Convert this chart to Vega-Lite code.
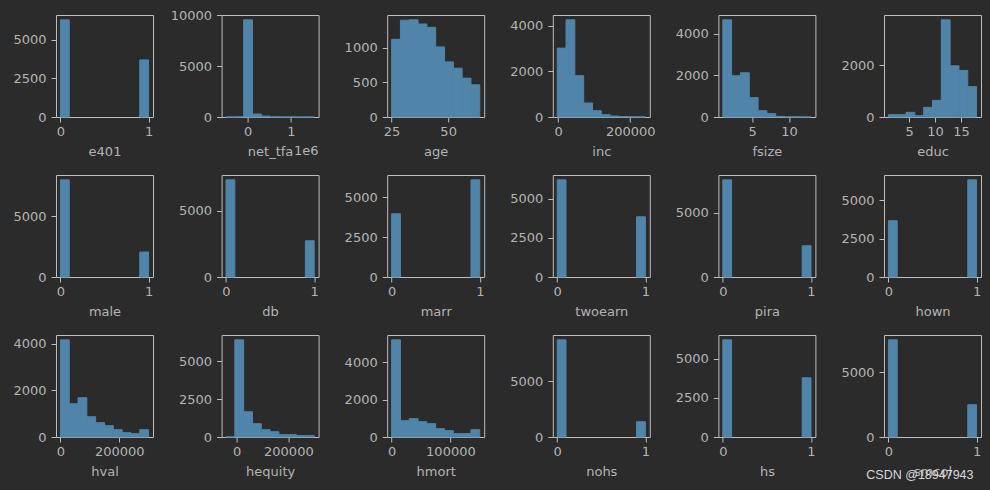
{
  "$schema": "https://vega.github.io/schema/vega-lite/v6.json",
  "background": "#2b2b2b",
  "padding": {"left": 12, "top": 8, "right": 9, "bottom": 12},
  "title": {"text": "CSDN @18947943", "orient": "bottom", "anchor": "end", "offset": -10, "font": "Liberation Sans", "fontSize": 12.5, "fontWeight": "normal", "color": "#d8d8d8", "dx": -8},
  "data": {"values": [
    {"var": "e401", "lo": 0, "hi": 0.1, "count": 6280},
    {"var": "e401", "lo": 0.9, "hi": 1, "count": 3690},
    {"var": "net_tfa", "lo": -502302, "hi": -298392, "count": 2},
    {"var": "net_tfa", "lo": -298392, "hi": -94482, "count": 12},
    {"var": "net_tfa", "lo": -94482, "hi": 109428, "count": 9560},
    {"var": "net_tfa", "lo": 109428, "hi": 313338, "count": 290},
    {"var": "net_tfa", "lo": 313338, "hi": 517248, "count": 90},
    {"var": "net_tfa", "lo": 517248, "hi": 721158, "count": 12},
    {"var": "net_tfa", "lo": 721158, "hi": 925068, "count": 4},
    {"var": "net_tfa", "lo": 925068, "hi": 1128978, "count": 2},
    {"var": "net_tfa", "lo": 1128978, "hi": 1332888, "count": 1},
    {"var": "net_tfa", "lo": 1332888, "hi": 1536798, "count": 2},
    {"var": "age", "lo": 25, "hi": 28.9, "count": 1122},
    {"var": "age", "lo": 28.9, "hi": 32.8, "count": 1398},
    {"var": "age", "lo": 32.8, "hi": 36.7, "count": 1403},
    {"var": "age", "lo": 36.7, "hi": 40.6, "count": 1343},
    {"var": "age", "lo": 40.6, "hi": 44.5, "count": 1295},
    {"var": "age", "lo": 44.5, "hi": 48.4, "count": 1012},
    {"var": "age", "lo": 48.4, "hi": 52.3, "count": 796},
    {"var": "age", "lo": 52.3, "hi": 56.2, "count": 705},
    {"var": "age", "lo": 56.2, "hi": 60.1, "count": 561},
    {"var": "age", "lo": 60.1, "hi": 64, "count": 465},
    {"var": "inc", "lo": -2652, "hi": 21826, "count": 3020},
    {"var": "inc", "lo": 21826, "hi": 46303, "count": 4260},
    {"var": "inc", "lo": 46303, "hi": 70781, "count": 1809},
    {"var": "inc", "lo": 70781, "hi": 95258, "count": 613},
    {"var": "inc", "lo": 95258, "hi": 119736, "count": 277},
    {"var": "inc", "lo": 119736, "hi": 144214, "count": 102},
    {"var": "inc", "lo": 144214, "hi": 168691, "count": 44},
    {"var": "inc", "lo": 168691, "hi": 193169, "count": 20},
    {"var": "inc", "lo": 193169, "hi": 217646, "count": 10},
    {"var": "inc", "lo": 217646, "hi": 242124, "count": 8},
    {"var": "fsize", "lo": 1, "hi": 2.2, "count": 4657},
    {"var": "fsize", "lo": 2.2, "hi": 3.4, "count": 1978},
    {"var": "fsize", "lo": 3.4, "hi": 4.6, "count": 2121},
    {"var": "fsize", "lo": 4.6, "hi": 5.8, "count": 925},
    {"var": "fsize", "lo": 5.8, "hi": 7, "count": 303},
    {"var": "fsize", "lo": 7, "hi": 8.2, "count": 160},
    {"var": "fsize", "lo": 8.2, "hi": 9.4, "count": 32},
    {"var": "fsize", "lo": 9.4, "hi": 10.6, "count": 10},
    {"var": "fsize", "lo": 10.6, "hi": 11.8, "count": 5},
    {"var": "fsize", "lo": 11.8, "hi": 13, "count": 3},
    {"var": "educ", "lo": 1, "hi": 2.7, "count": 90},
    {"var": "educ", "lo": 2.7, "hi": 4.4, "count": 90},
    {"var": "educ", "lo": 4.4, "hi": 6.1, "count": 180},
    {"var": "educ", "lo": 6.1, "hi": 7.8, "count": 51},
    {"var": "educ", "lo": 7.8, "hi": 9.5, "count": 372},
    {"var": "educ", "lo": 9.5, "hi": 11.2, "count": 641},
    {"var": "educ", "lo": 11.2, "hi": 12.9, "count": 3743},
    {"var": "educ", "lo": 12.9, "hi": 14.6, "count": 1974},
    {"var": "educ", "lo": 14.6, "hi": 16.3, "count": 1795},
    {"var": "educ", "lo": 16.3, "hi": 18, "count": 1167},
    {"var": "male", "lo": 0, "hi": 0.1, "count": 8028},
    {"var": "male", "lo": 0.9, "hi": 1, "count": 2063},
    {"var": "db", "lo": 0, "hi": 0.1, "count": 7305},
    {"var": "db", "lo": 0.9, "hi": 1, "count": 2725},
    {"var": "marr", "lo": 0, "hi": 0.1, "count": 3958},
    {"var": "marr", "lo": 0.9, "hi": 1, "count": 6083},
    {"var": "twoearn", "lo": 0, "hi": 0.1, "count": 6213},
    {"var": "twoearn", "lo": 0.9, "hi": 1, "count": 3851},
    {"var": "pira", "lo": 0, "hi": 0.1, "count": 7565},
    {"var": "pira", "lo": 0.9, "hi": 1, "count": 2435},
    {"var": "hown", "lo": 0, "hi": 0.1, "count": 3674},
    {"var": "hown", "lo": 0.9, "hi": 1, "count": 6348},
    {"var": "hval", "lo": 0, "hi": 30000, "count": 4171},
    {"var": "hval", "lo": 30000, "hi": 60000, "count": 1429},
    {"var": "hval", "lo": 60000, "hi": 90000, "count": 1686},
    {"var": "hval", "lo": 90000, "hi": 120000, "count": 871},
    {"var": "hval", "lo": 120000, "hi": 150000, "count": 614},
    {"var": "hval", "lo": 150000, "hi": 180000, "count": 486},
    {"var": "hval", "lo": 180000, "hi": 210000, "count": 314},
    {"var": "hval", "lo": 210000, "hi": 240000, "count": 186},
    {"var": "hval", "lo": 240000, "hi": 270000, "count": 143},
    {"var": "hval", "lo": 270000, "hi": 300000, "count": 314},
    {"var": "hequity", "lo": -41500, "hi": -7350, "count": 10},
    {"var": "hequity", "lo": -7350, "hi": 26800, "count": 6432},
    {"var": "hequity", "lo": 26800, "hi": 60950, "count": 1674},
    {"var": "hequity", "lo": 60950, "hi": 95100, "count": 881},
    {"var": "hequity", "lo": 95100, "hi": 129250, "count": 485},
    {"var": "hequity", "lo": 129250, "hi": 163400, "count": 352},
    {"var": "hequity", "lo": 163400, "hi": 197550, "count": 154},
    {"var": "hequity", "lo": 197550, "hi": 231700, "count": 154},
    {"var": "hequity", "lo": 231700, "hi": 265850, "count": 88},
    {"var": "hequity", "lo": 265850, "hi": 300000, "count": 88},
    {"var": "hmort", "lo": 0, "hi": 15000, "count": 5191},
    {"var": "hmort", "lo": 15000, "hi": 30000, "count": 871},
    {"var": "hmort", "lo": 30000, "hi": 45000, "count": 978},
    {"var": "hmort", "lo": 45000, "hi": 60000, "count": 818},
    {"var": "hmort", "lo": 60000, "hi": 75000, "count": 711},
    {"var": "hmort", "lo": 75000, "hi": 90000, "count": 444},
    {"var": "hmort", "lo": 90000, "hi": 105000, "count": 338},
    {"var": "hmort", "lo": 105000, "hi": 120000, "count": 178},
    {"var": "hmort", "lo": 120000, "hi": 135000, "count": 178},
    {"var": "hmort", "lo": 135000, "hi": 150000, "count": 391},
    {"var": "nohs", "lo": 0, "hi": 0.1, "count": 8690},
    {"var": "nohs", "lo": 0.9, "hi": 1, "count": 1369},
    {"var": "hs", "lo": 0, "hi": 0.1, "count": 6213},
    {"var": "hs", "lo": 0.9, "hi": 1, "count": 3787},
    {"var": "smcol", "lo": 0, "hi": 0.1, "count": 7526},
    {"var": "smcol", "lo": 0.9, "hi": 1, "count": 2500}
  ]},
  "columns": 6,
  "bounds": "flush",
  "align": "all",
  "spacing": {"row": 58, "column": 68.6},
  "concat": [
    {"width": 97, "height": 102, "transform": [{"filter": "datum.var === 'e401'"}], "mark": {"type": "bar", "color": "#5085a9", "stroke": "#5085a9", "strokeWidth": 1},
     "encoding": {"x": {"field": "lo", "type": "quantitative", "scale": {"domain": [-0.05, 1.05], "nice": false, "zero": false}, "axis": {"values": [0, 1], "title": "e401"}}, "x2": {"field": "hi"},
       "y": {"field": "count", "type": "quantitative", "scale": {"domain": [0, 6594], "nice": false}, "axis": {"values": [0, 2500, 5000], "title": null}}, "y2": {"datum": 0}}},
    {"width": 97, "height": 102, "layer": [
      {"transform": [{"filter": "datum.var === 'net_tfa'"}], "mark": {"type": "bar", "color": "#5085a9", "stroke": "#5085a9", "strokeWidth": 1},
       "encoding": {"x": {"field": "lo", "type": "quantitative", "scale": {"domain": [-604257, 1638753], "nice": false, "zero": false}, "axis": {"values": [0, 1000000], "labelExpr": "format(datum.value / 1000000, 'd')", "title": "net_tfa"}}, "x2": {"field": "hi"},
         "y": {"field": "count", "type": "quantitative", "scale": {"domain": [0, 10038], "nice": false}, "axis": {"values": [0, 5000, 10000], "title": null}}, "y2": {"datum": 0}}},
      {"data": {"values": [{"t": "1e6"}]}, "mark": {"type": "text", "align": "right", "baseline": "alphabetic", "font": "DejaVu Sans", "fontSize": 13, "color": "#b4b4b4"},
       "encoding": {"x": {"datum": 1638753}, "y": {"datum": -3700}, "text": {"field": "t"}}}
    ]},
    {"width": 97, "height": 102, "transform": [{"filter": "datum.var === 'age'"}], "mark": {"type": "bar", "color": "#5085a9", "stroke": "#5085a9", "strokeWidth": 1},
     "encoding": {"x": {"field": "lo", "type": "quantitative", "scale": {"domain": [23.05, 65.95], "nice": false, "zero": false}, "axis": {"values": [25, 50], "title": "age"}}, "x2": {"field": "hi"},
       "y": {"field": "count", "type": "quantitative", "scale": {"domain": [0, 1473], "nice": false}, "axis": {"values": [0, 500, 1000], "title": null}}, "y2": {"datum": 0}}},
    {"width": 97, "height": 102, "transform": [{"filter": "datum.var === 'inc'"}], "mark": {"type": "bar", "color": "#5085a9", "stroke": "#5085a9", "strokeWidth": 1},
     "encoding": {"x": {"field": "lo", "type": "quantitative", "scale": {"domain": [-14891, 254363], "nice": false, "zero": false}, "axis": {"values": [0, 200000], "title": "inc"}}, "x2": {"field": "hi"},
       "y": {"field": "count", "type": "quantitative", "scale": {"domain": [0, 4473], "nice": false}, "axis": {"values": [0, 2000, 4000], "title": null}}, "y2": {"datum": 0}}},
    {"width": 97, "height": 102, "transform": [{"filter": "datum.var === 'fsize'"}], "mark": {"type": "bar", "color": "#5085a9", "stroke": "#5085a9", "strokeWidth": 1},
     "encoding": {"x": {"field": "lo", "type": "quantitative", "scale": {"domain": [0.4, 13.6], "nice": false, "zero": false}, "axis": {"values": [5, 10], "title": "fsize"}}, "x2": {"field": "hi"},
       "y": {"field": "count", "type": "quantitative", "scale": {"domain": [0, 4890], "nice": false}, "axis": {"values": [0, 2000, 4000], "title": null}}, "y2": {"datum": 0}}},
    {"width": 97, "height": 102, "transform": [{"filter": "datum.var === 'educ'"}], "mark": {"type": "bar", "color": "#5085a9", "stroke": "#5085a9", "strokeWidth": 1},
     "encoding": {"x": {"field": "lo", "type": "quantitative", "scale": {"domain": [0.15, 18.85], "nice": false, "zero": false}, "axis": {"values": [5, 10, 15], "title": "educ"}}, "x2": {"field": "hi"},
       "y": {"field": "count", "type": "quantitative", "scale": {"domain": [0, 3930], "nice": false}, "axis": {"values": [0, 2000], "title": null}}, "y2": {"datum": 0}}},
    {"width": 97, "height": 102, "transform": [{"filter": "datum.var === 'male'"}], "mark": {"type": "bar", "color": "#5085a9", "stroke": "#5085a9", "strokeWidth": 1},
     "encoding": {"x": {"field": "lo", "type": "quantitative", "scale": {"domain": [-0.05, 1.05], "nice": false, "zero": false}, "axis": {"values": [0, 1], "title": "male"}}, "x2": {"field": "hi"},
       "y": {"field": "count", "type": "quantitative", "scale": {"domain": [0, 8429], "nice": false}, "axis": {"values": [0, 5000], "title": null}}, "y2": {"datum": 0}}},
    {"width": 97, "height": 102, "transform": [{"filter": "datum.var === 'db'"}], "mark": {"type": "bar", "color": "#5085a9", "stroke": "#5085a9", "strokeWidth": 1},
     "encoding": {"x": {"field": "lo", "type": "quantitative", "scale": {"domain": [-0.05, 1.05], "nice": false, "zero": false}, "axis": {"values": [0, 1], "title": "db"}}, "x2": {"field": "hi"},
       "y": {"field": "count", "type": "quantitative", "scale": {"domain": [0, 7670], "nice": false}, "axis": {"values": [0, 5000], "title": null}}, "y2": {"datum": 0}}},
    {"width": 97, "height": 102, "transform": [{"filter": "datum.var === 'marr'"}], "mark": {"type": "bar", "color": "#5085a9", "stroke": "#5085a9", "strokeWidth": 1},
     "encoding": {"x": {"field": "lo", "type": "quantitative", "scale": {"domain": [-0.05, 1.05], "nice": false, "zero": false}, "axis": {"values": [0, 1], "title": "marr"}}, "x2": {"field": "hi"},
       "y": {"field": "count", "type": "quantitative", "scale": {"domain": [0, 6387], "nice": false}, "axis": {"values": [0, 2500, 5000], "title": null}}, "y2": {"datum": 0}}},
    {"width": 97, "height": 102, "transform": [{"filter": "datum.var === 'twoearn'"}], "mark": {"type": "bar", "color": "#5085a9", "stroke": "#5085a9", "strokeWidth": 1},
     "encoding": {"x": {"field": "lo", "type": "quantitative", "scale": {"domain": [-0.05, 1.05], "nice": false, "zero": false}, "axis": {"values": [0, 1], "title": "twoearn"}}, "x2": {"field": "hi"},
       "y": {"field": "count", "type": "quantitative", "scale": {"domain": [0, 6524], "nice": false}, "axis": {"values": [0, 2500, 5000], "title": null}}, "y2": {"datum": 0}}},
    {"width": 97, "height": 102, "transform": [{"filter": "datum.var === 'pira'"}], "mark": {"type": "bar", "color": "#5085a9", "stroke": "#5085a9", "strokeWidth": 1},
     "encoding": {"x": {"field": "lo", "type": "quantitative", "scale": {"domain": [-0.05, 1.05], "nice": false, "zero": false}, "axis": {"values": [0, 1], "title": "pira"}}, "x2": {"field": "hi"},
       "y": {"field": "count", "type": "quantitative", "scale": {"domain": [0, 7943], "nice": false}, "axis": {"values": [0, 5000], "title": null}}, "y2": {"datum": 0}}},
    {"width": 97, "height": 102, "transform": [{"filter": "datum.var === 'hown'"}], "mark": {"type": "bar", "color": "#5085a9", "stroke": "#5085a9", "strokeWidth": 1},
     "encoding": {"x": {"field": "lo", "type": "quantitative", "scale": {"domain": [-0.05, 1.05], "nice": false, "zero": false}, "axis": {"values": [0, 1], "title": "hown"}}, "x2": {"field": "hi"},
       "y": {"field": "count", "type": "quantitative", "scale": {"domain": [0, 6665], "nice": false}, "axis": {"values": [0, 2500, 5000], "title": null}}, "y2": {"datum": 0}}},
    {"width": 97, "height": 102, "transform": [{"filter": "datum.var === 'hval'"}], "mark": {"type": "bar", "color": "#5085a9", "stroke": "#5085a9", "strokeWidth": 1},
     "encoding": {"x": {"field": "lo", "type": "quantitative", "scale": {"domain": [-15000, 315000], "nice": false, "zero": false}, "axis": {"values": [0, 200000], "title": "hval"}}, "x2": {"field": "hi"},
       "y": {"field": "count", "type": "quantitative", "scale": {"domain": [0, 4380], "nice": false}, "axis": {"values": [0, 2000, 4000], "title": null}}, "y2": {"datum": 0}}},
    {"width": 97, "height": 102, "transform": [{"filter": "datum.var === 'hequity'"}], "mark": {"type": "bar", "color": "#5085a9", "stroke": "#5085a9", "strokeWidth": 1},
     "encoding": {"x": {"field": "lo", "type": "quantitative", "scale": {"domain": [-58575, 317075], "nice": false, "zero": false}, "axis": {"values": [0, 200000], "title": "hequity"}}, "x2": {"field": "hi"},
       "y": {"field": "count", "type": "quantitative", "scale": {"domain": [0, 6754], "nice": false}, "axis": {"values": [0, 2500, 5000], "title": null}}, "y2": {"datum": 0}}},
    {"width": 97, "height": 102, "transform": [{"filter": "datum.var === 'hmort'"}], "mark": {"type": "bar", "color": "#5085a9", "stroke": "#5085a9", "strokeWidth": 1},
     "encoding": {"x": {"field": "lo", "type": "quantitative", "scale": {"domain": [-7500, 157500], "nice": false, "zero": false}, "axis": {"values": [0, 100000], "title": "hmort"}}, "x2": {"field": "hi"},
       "y": {"field": "count", "type": "quantitative", "scale": {"domain": [0, 5451], "nice": false}, "axis": {"values": [0, 2000, 4000], "title": null}}, "y2": {"datum": 0}}},
    {"width": 97, "height": 102, "transform": [{"filter": "datum.var === 'nohs'"}], "mark": {"type": "bar", "color": "#5085a9", "stroke": "#5085a9", "strokeWidth": 1},
     "encoding": {"x": {"field": "lo", "type": "quantitative", "scale": {"domain": [-0.05, 1.05], "nice": false, "zero": false}, "axis": {"values": [0, 1], "title": "nohs"}}, "x2": {"field": "hi"},
       "y": {"field": "count", "type": "quantitative", "scale": {"domain": [0, 9125], "nice": false}, "axis": {"values": [0, 5000], "title": null}}, "y2": {"datum": 0}}},
    {"width": 97, "height": 102, "transform": [{"filter": "datum.var === 'hs'"}], "mark": {"type": "bar", "color": "#5085a9", "stroke": "#5085a9", "strokeWidth": 1},
     "encoding": {"x": {"field": "lo", "type": "quantitative", "scale": {"domain": [-0.05, 1.05], "nice": false, "zero": false}, "axis": {"values": [0, 1], "title": "hs"}}, "x2": {"field": "hi"},
       "y": {"field": "count", "type": "quantitative", "scale": {"domain": [0, 6524], "nice": false}, "axis": {"values": [0, 2500, 5000], "title": null}}, "y2": {"datum": 0}}},
    {"width": 97, "height": 102, "transform": [{"filter": "datum.var === 'smcol'"}], "mark": {"type": "bar", "color": "#5085a9", "stroke": "#5085a9", "strokeWidth": 1},
     "encoding": {"x": {"field": "lo", "type": "quantitative", "scale": {"domain": [-0.05, 1.05], "nice": false, "zero": false}, "axis": {"values": [0, 1], "title": "smcol"}}, "x2": {"field": "hi"},
       "y": {"field": "count", "type": "quantitative", "scale": {"domain": [0, 7902], "nice": false}, "axis": {"values": [0, 5000], "title": null}}, "y2": {"datum": 0}}}
  ],
  "config": {
    "numberFormat": "d",
    "view": {"stroke": "#bdbdbd", "strokeWidth": 1},
    "axis": {"grid": false, "domain": false, "ticks": true, "tickColor": "#bdbdbd", "tickSize": 5, "labelColor": "#b4b4b4", "labelFont": "DejaVu Sans", "labelFontSize": 13, "labelPadding": 3, "labelFlush": false, "labelOverlap": false, "titleFont": "DejaVu Sans", "titleFontSize": 13, "titleFontWeight": "normal", "titleColor": "#b4b4b4", "titlePadding": 7},
    "axisY": {"labelPadding": 5}
  }
}
